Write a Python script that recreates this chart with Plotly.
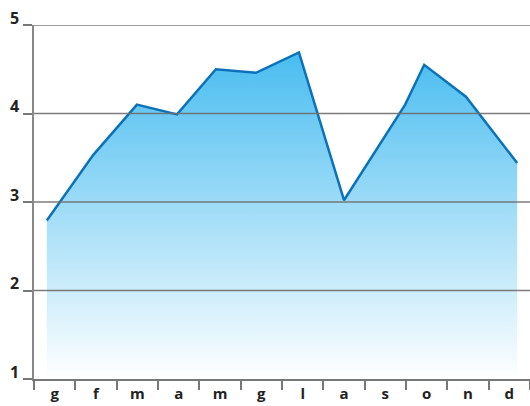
import plotly.graph_objects as go

months = ["g", "f", "m", "a", "m", "g", "l", "a", "s", "o", "n", "d"]
# position of each observation along the year (month units, 0 = start of January)
x_pos = [0.31, 1.43, 2.49, 3.46, 4.40, 5.37, 6.41, 7.50, 8.98, 9.44, 10.45, 11.69]
values = [2.79, 3.53, 4.10, 3.99, 4.50, 4.46, 4.69, 3.02, 4.10, 4.55, 4.19, 3.44]
y_ticks = [1, 2, 3, 4, 5]

band_centers = [i + 0.5 for i in range(len(months))]
band_edges = list(range(len(months) + 1))

fig = go.Figure()
fig.add_trace(go.Scatter(
    x=x_pos, y=values, mode="lines",
    line=dict(color="#0b72b9", width=2.5),
    fill="tozeroy",
    fillgradient=dict(
        type="vertical",
        colorscale=[[0, "rgb(255,255,255)"], [1, "rgb(72,188,240)"]],
        start=1, stop=4.7,
    ),
    hoverinfo="skip",
))

# grid lines drawn above the filled area, as in the reference
for v in y_ticks[1:]:
    fig.add_shape(type="line", xref="paper", yref="y", x0=0, x1=1, y0=v, y1=v,
                  line=dict(color="rgba(110,110,110,0.9)", width=1.5), layer="above")

fig.update_layout(
    width=530, height=406,
    margin=dict(l=34, r=0, t=25, b=27),
    paper_bgcolor="white", plot_bgcolor="white",
    showlegend=False,
    font=dict(family="Open Sans", size=15, color="#222"),
)
fig.update_xaxes(
    range=[0, 12], tickmode="array", tickvals=band_centers, ticktext=months,
    ticks="", showgrid=False, zeroline=False,
    showline=True, linecolor="#777", linewidth=1.5, layer="above traces",
    tickfont=dict(family="Open Sans", size=15, color="#222", weight="bold"),
    minor=dict(tickmode="array", tickvals=band_edges, ticks="outside",
               ticklen=9, tickcolor="#777", tickwidth=1.5, showgrid=False),
)
fig.update_yaxes(
    range=[1, 5], tickmode="array", tickvals=y_ticks,
    ticks="outside", ticklen=9, tickcolor="#777", tickwidth=1.5,
    showgrid=False, zeroline=False,
    showline=True, linecolor="#888", linewidth=1.5, layer="above traces",
    ticklabelshift=-7, ticklabelstandoff=1,
    tickfont=dict(family="Open Sans", size=16, color="#222", weight="bold"),
)

fig.write_html("out.html")
